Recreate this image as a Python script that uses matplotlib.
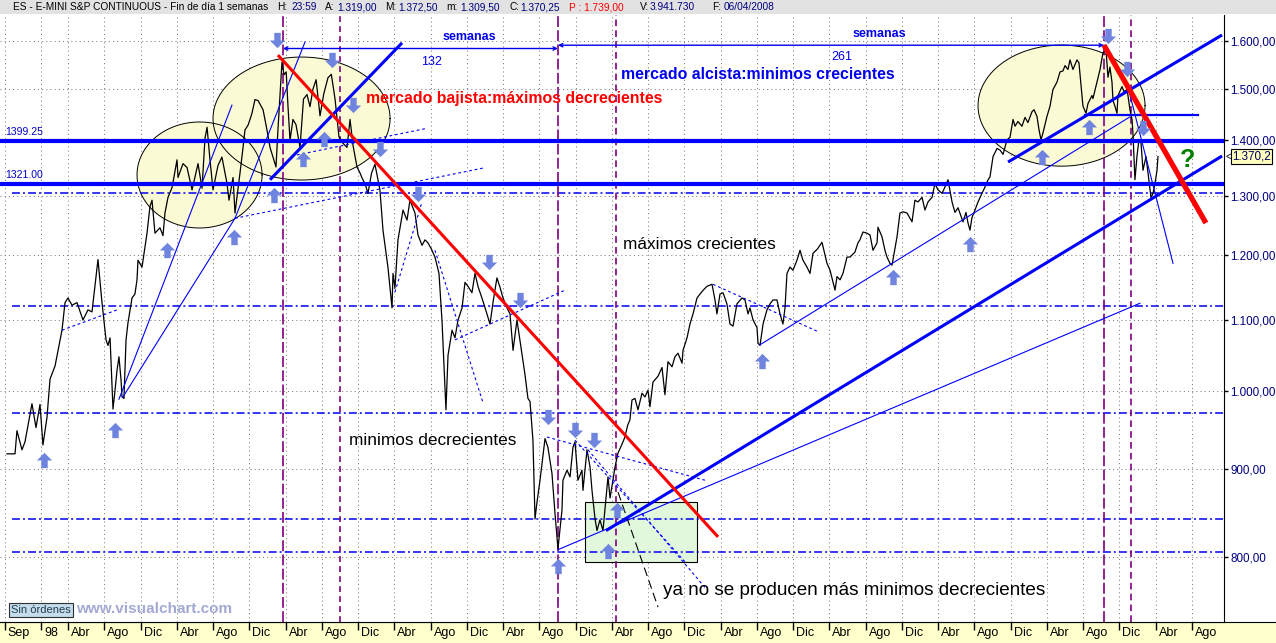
import numpy as np
import matplotlib
matplotlib.use("Agg")
import matplotlib.pyplot as plt
from matplotlib.path import Path
from matplotlib.ticker import FixedLocator, NullLocator, FuncFormatter, NullFormatter
from matplotlib.transforms import ScaledTranslation

plt.rcParams['font.family'] = ['Liberation Sans', 'DejaVu Sans']

# ---------------- weekly price path (decimal year, close) ----------------
t_1997_98 = [1997.687, 1997.761, 1997.779, 1997.825, 1997.853, 1997.917, 1997.954, 1997.991, 1998.018, 1998.055,
             1998.083, 1998.129, 1998.193, 1998.221, 1998.248, 1998.285, 1998.331, 1998.386, 1998.432, 1998.469,
             1998.524, 1998.561, 1998.598, 1998.616, 1998.635, 1998.662, 1998.681, 1998.699, 1998.717, 1998.736,
             1998.745, 1998.763, 1998.782, 1998.800, 1998.837, 1998.864, 1998.883, 1998.892, 1998.929, 1998.975]
p_1997_98 = [919, 919, 948, 924, 934, 983, 952, 982, 930, 965, 1016, 1034, 1085, 1126, 1133, 1122, 1126, 1100, 1115, 1112,
             1193, 1126, 1071, 1063, 1074, 976, 1001, 1028, 1047, 1015, 992, 990, 1071, 1096, 1133, 1139, 1161, 1192, 1181, 1236]

t_1999 = [1999.002, 1999.021, 1999.048, 1999.094, 1999.122, 1999.140, 1999.168, 1999.205, 1999.251, 1999.260,
          1999.306, 1999.343, 1999.389, 1999.444, 1999.481, 1999.508, 1999.527, 1999.554, 1999.582, 1999.628,
          1999.664, 1999.710, 1999.729, 1999.766, 1999.784, 1999.830, 1999.858, 1999.876, 1999.904, 1999.922,
          1999.940, 1999.968]
p_1999 = [1281, 1292, 1236, 1245, 1232, 1270, 1297, 1314, 1364, 1332, 1357, 1350, 1310, 1357, 1313, 1404, 1425, 1364,
          1310, 1354, 1369, 1322, 1292, 1332, 1270, 1340, 1387, 1420, 1429, 1440, 1452, 1479]

t_2000 = [1999.996, 2000.042, 2000.078, 2000.106, 2000.133, 2000.161, 2000.179, 2000.216, 2000.235, 2000.255,
          2000.271, 2000.290, 2000.317, 2000.345, 2000.382, 2000.414, 2000.446, 2000.474, 2000.501, 2000.530,
          2000.566, 2000.600, 2000.639, 2000.670, 2000.704, 2000.740, 2000.775, 2000.814, 2000.842, 2000.870,
          2000.906, 2000.934, 2000.955, 2000.980]
p_2000 = [1477, 1459, 1420, 1387, 1369, 1351, 1420, 1555, 1529, 1535, 1467, 1400, 1440, 1430, 1387, 1480, 1489, 1465,
          1500, 1519, 1447, 1490, 1523, 1530, 1480, 1407, 1395, 1387, 1440, 1390, 1351, 1340, 1330, 1321]

t_2001 = [2001.007, 2001.040, 2001.071, 2001.117, 2001.145, 2001.191, 2001.228, 2001.237, 2001.255, 2001.283,
          2001.329, 2001.366, 2001.393, 2001.439, 2001.467, 2001.504, 2001.531, 2001.559, 2001.590, 2001.623,
          2001.660, 2001.688, 2001.724, 2001.743, 2001.780, 2001.807, 2001.835, 2001.872, 2001.899, 2001.930,
          2001.963, 2001.991]
p_2001 = [1304, 1340, 1356, 1310, 1241, 1180, 1118, 1171, 1148, 1225, 1275, 1258, 1292, 1270, 1233, 1216, 1225, 1220,
          1210, 1197, 1171, 1098, 975, 1049, 1085, 1074, 1100, 1118, 1157, 1150, 1141, 1171]

t_2002 = [2002.020, 2002.055, 2002.101, 2002.129, 2002.160, 2002.193, 2002.220, 2002.249, 2002.280, 2002.313,
          2002.341, 2002.377, 2002.423, 2002.451, 2002.478, 2002.497, 2002.524, 2002.543, 2002.560, 2002.589,
          2002.635, 2002.662, 2002.699, 2002.727, 2002.754, 2002.791, 2002.800, 2002.837, 2002.865, 2002.892,
          2002.911, 2002.938, 2002.975, 2002.984]
p_2002 = [1150, 1133, 1109, 1094, 1130, 1164, 1150, 1133, 1120, 1109, 1056, 1100, 1051, 1022, 990, 986, 936, 842,
          860, 887, 938, 927, 895, 848, 809, 852, 887, 899, 891, 927, 934, 887, 899, 875]

t_2003 = [2003.021, 2003.049, 2003.067, 2003.095, 2003.113, 2003.140, 2003.168, 2003.214, 2003.233, 2003.279,
          2003.306, 2003.340, 2003.370, 2003.395, 2003.416, 2003.435, 2003.462, 2003.490, 2003.527, 2003.554,
          2003.582, 2003.600, 2003.628, 2003.674, 2003.711, 2003.738, 2003.766, 2003.803, 2003.830, 2003.858,
          2003.895, 2003.904, 2003.941, 2003.968, 2003.996]
p_2003 = [924, 903, 875, 842, 829, 841, 829, 891, 866, 903, 920, 930, 940, 955, 962, 988, 990, 975, 997, 992,
          1001, 979, 1012, 1020, 1032, 995, 1040, 1033, 1047, 1052, 1038, 1056, 1074, 1094, 1109]

t_2004 = [2004.033, 2004.060, 2004.090, 2004.125, 2004.171, 2004.198, 2004.216, 2004.244, 2004.272, 2004.308,
          2004.336, 2004.364, 2004.400, 2004.446, 2004.474, 2004.502, 2004.520, 2004.548, 2004.584, 2004.594,
          2004.612, 2004.640, 2004.676, 2004.704, 2004.731, 2004.768, 2004.796, 2004.823, 2004.842, 2004.860,
          2004.888, 2004.915, 2004.952, 2004.980]
p_2004 = [1133, 1139, 1145, 1151, 1154, 1130, 1109, 1139, 1141, 1124, 1094, 1091, 1124, 1133, 1130, 1109, 1118, 1100,
          1089, 1066, 1063, 1094, 1115, 1124, 1130, 1130, 1109, 1094, 1118, 1171, 1181, 1176, 1192, 1208]

t_2005 = [2005.007, 2005.044, 2005.072, 2005.099, 2005.140, 2005.182, 2005.228, 2005.256, 2005.283, 2005.302,
          2005.320, 2005.348, 2005.375, 2005.412, 2005.440, 2005.485, 2005.513, 2005.531, 2005.559, 2005.596,
          2005.624, 2005.651, 2005.688, 2005.697, 2005.734, 2005.761, 2005.780, 2005.807, 2005.826, 2005.872,
          2005.899, 2005.927, 2005.964]
p_2005 = [1192, 1181, 1171, 1203, 1210, 1221, 1187, 1176, 1158, 1145, 1166, 1161, 1171, 1197, 1197, 1205, 1220, 1225,
          1238, 1236, 1233, 1208, 1220, 1246, 1230, 1208, 1197, 1187, 1184, 1230, 1270, 1272, 1270]

t_2006 = [2006.010, 2006.037, 2006.065, 2006.102, 2006.129, 2006.157, 2006.194, 2006.221, 2006.249, 2006.286,
          2006.313, 2006.341, 2006.378, 2006.405, 2006.433, 2006.470, 2006.479, 2006.506, 2006.525, 2006.543,
          2006.561, 2006.589, 2006.617, 2006.653, 2006.681, 2006.709, 2006.727, 2006.755, 2006.792, 2006.819,
          2006.847, 2006.883, 2006.911, 2006.939, 2006.957, 2006.984]
p_2006 = [1255, 1292, 1289, 1297, 1275, 1289, 1297, 1321, 1310, 1304, 1315, 1328, 1289, 1271, 1279, 1260, 1255, 1271,
          1253, 1241, 1262, 1275, 1289, 1304, 1315, 1328, 1333, 1370, 1385, 1382, 1374, 1401, 1406, 1440, 1427, 1436]

t_2007 = [2007.021, 2007.049, 2007.076, 2007.113, 2007.132, 2007.159, 2007.178, 2007.196, 2007.214, 2007.251,
          2007.279, 2007.306, 2007.343, 2007.371, 2007.398, 2007.417, 2007.444, 2007.463, 2007.490, 2007.527,
          2007.545, 2007.573, 2007.582, 2007.610, 2007.628, 2007.665, 2007.674, 2007.711, 2007.739, 2007.766,
          2007.794, 2007.812, 2007.830, 2007.849, 2007.858, 2007.876, 2007.895, 2007.904, 2007.941, 2007.959,
          2007.987, 2007.996]
p_2007 = [1427, 1444, 1434, 1455, 1459, 1446, 1420, 1401, 1414, 1446, 1466, 1499, 1514, 1535, 1537, 1548, 1540, 1560,
          1540, 1560, 1554, 1487, 1466, 1452, 1471, 1487, 1481, 1514, 1540, 1575, 1581, 1524, 1545, 1514, 1477, 1466,
          1452, 1487, 1505, 1495, 1499, 1487]

t_2008 = [2008.014, 2008.033, 2008.042, 2008.060, 2008.079, 2008.097, 2008.116, 2008.134, 2008.162, 2008.180,
          2008.208, 2008.226, 2008.244, 2008.263, 2008.272]
p_2008 = [1459, 1440, 1412, 1328, 1371, 1401, 1395, 1345, 1370, 1340, 1296, 1304, 1321, 1345, 1370]

# ---------------- drawn studies ----------------
support_levels = [1399.25, 1321.00]
support_labels = ['1399.25', '1321.00']
dashdot_levels = [1304, 1121, 971, 842, 805]
vline_dates = [2000.225, 2000.750, 2002.754, 2003.288, 2007.775, 2008.023]
vline_dash = [(6.5, 2), (3.5, 2.5), (6.5, 2), (4, 2.5), (6.5, 2), (4, 2.5)]

# ellipses: centre date, centre price, half-width (years), half-height (log units)
ellipses = [(1999.458, 1336.5, 0.575, 0.0712),
            (2000.396, 1441.8, 0.814, 0.0826),
            (2007.385, 1467.0, 0.768, 0.0813)]

red_lines = [((2000.179, 1570), (2004.226, 822), 2.2),
             ((2007.775, 1591), (2008.713, 1253), 3.8)]
thick_blue = [((2000.106, 1328), (2001.320, 1596)),
              ((2003.196, 829), (2008.861, 1371)),
              ((2006.893, 1360), (2008.861, 1613))]
flat_blue = ((2007.601, 1449), (2008.643, 1449))
thin_blue = [((1998.717, 989), (1999.756, 1468)),
             ((1998.754, 992), (1999.784, 1261)),
             ((1999.784, 1261), (2000.428, 1598)),
             ((2002.754, 808), (2008.106, 1125)),
             ((2004.612, 1064), (2008.014, 1445)),
             ((2007.996, 1504), (2008.410, 1187))]
dotted_blue = [((1999.784, 1261), (2002.065, 1349)),
               ((2000.354, 1373), (2001.550, 1423)),
               ((1998.193, 1085), (1998.699, 1115)),
               ((2001.255, 1142), (2001.504, 1289)),
               ((2001.623, 1208), (2002.065, 984)),
               ((2001.807, 1071), (2002.819, 1145)),
               ((2002.653, 940), (2004.106, 887)),
               ((2002.911, 936), (2003.922, 795)),
               ((2003.030, 924), (2004.106, 768)),
               ((2004.180, 1154), (2005.145, 1083))]
black_dashed = ((2003.306, 873), (2003.674, 748))
green_box = (2003.003, 795, 2004.033, 861.5)

up_t = [1998.028, 1998.680, 1999.159, 1999.775, 2000.143, 2000.409, 2000.602, 2002.754, 2003.214, 2003.297,
        2004.630, 2005.835, 2006.543, 2007.205, 2007.638]
up_p = [911, 949, 1208, 1230, 1301, 1365, 1403, 791, 807, 852, 1041, 1165, 1218, 1369, 1425]
down_t = [2000.170, 2000.676, 2000.869, 2001.117, 2001.467, 2002.120, 2002.405, 2002.662, 2002.911, 2003.085,
          2007.812, 2007.987, 2008.134]
down_p = [1602, 1560, 1468, 1384, 1303, 1189, 1130, 966, 949, 936, 1611, 1540, 1423]

measures = [(2000.225, 2002.754, 1584, 'semanas', '132', 2001.697, 1609, 2001.495, 1555),
            (2002.754, 2007.775, 1591, 'semanas', '261', 2005.467, 1615, 2005.265, 1567)]

month_names = ['Abr', 'Ago', 'Dic']
month_offsets = [3, 7, 11]
price_ticks = [800, 900, 1000, 1100, 1200, 1300, 1400, 1500, 1600]
last_close = 1370.25

# ---------------- figure ----------------
W, H = 1276, 643
fig = plt.figure(figsize=(W / 100, H / 100), dpi=100)
fig.patch.set_facecolor('white')

def fy(py):
    return 1 - py / H

# title bar
tb = fig.add_axes([0, fy(14), 1, 14 / H])
tb.set_facecolor('#E2E2E2')
tb.set_xticks([]); tb.set_yticks([])
for s in tb.spines.values():
    s.set_visible(False)

# date band
band = fig.add_axes([0, 0, 1, 21 / H])
band.set_facecolor('#FFFFCC')
band.set_xticks([]); band.set_yticks([])
for k, s in band.spines.items():
    s.set_visible(k == 'top')
band.spines['top'].set_color('black')
band.set_zorder(0)

ax = fig.add_axes([0, 21 / H, 1224 / W, (622 - 15) / H])
ax.set_zorder(2)
ax.set_yscale('log')
ax.set_xlim(1997.623, 2008.879)
ax.set_ylim(733.2, 1656.9)

# ticks
tick_pos = [1997 + 8 / 12, 1998.0]
tick_lab = ['Sep', '98']
for yr in range(1998, 2009):
    for m, nm in zip(month_offsets, month_names):
        v = yr + m / 12
        if v < 2008.85:
            tick_pos.append(v)
            tick_lab.append(nm)
ax.set_xticks(tick_pos)
ax.set_xticklabels(tick_lab, ha='left')
ax.tick_params(axis='x', direction='out', length=6, width=1, labelsize=9, pad=-2.5, colors='black')
off = ScaledTranslation(3 / 100, 0, fig.dpi_scale_trans)
for lab in ax.get_xticklabels():
    lab.set_transform(lab.get_transform() + off)

ax.yaxis.tick_right()
ax.yaxis.set_major_locator(FixedLocator(price_ticks))
ax.yaxis.set_minor_locator(NullLocator())
ax.yaxis.set_minor_formatter(NullFormatter())
ax.yaxis.set_major_formatter(FuncFormatter(
    lambda v, _: f"{v:,.2f}".replace(',', 'X').replace('.', ',').replace('X', '.')))
ax.tick_params(axis='y', direction='out', length=3, width=1, labelsize=8.4, pad=1.5,
               colors='black', labelcolor='#000080')
for k in ['left', 'top']:
    ax.spines[k].set_visible(False)
ax.spines['right'].set_color('black')
ax.spines['bottom'].set_color('black')

ax.grid(True, which='major', color='#808080', linestyle=(0, (1, 3)), linewidth=0.75, zorder=0.5)
ax.set_axisbelow(True)

# ellipses
th = np.linspace(0, 2 * np.pi, 300)
for cx, cy, a, b in ellipses:
    ax.fill(cx + a * np.cos(th), cy * np.exp(b * np.sin(th)), facecolor='#FAFAD4', edgecolor='none', zorder=1)
for cx, cy, a, b in ellipses:
    ax.plot(cx + a * np.cos(th), cy * np.exp(b * np.sin(th)), color='black', lw=0.7, zorder=1.2)

# green box
gx0, gp0, gx1, gp1 = green_box
ax.fill([gx0, gx1, gx1, gx0], [gp0, gp0, gp1, gp1], facecolor='#E2F8DC', edgecolor='black', lw=0.8, zorder=1.1)

# dash-dot levels
for lv in dashdot_levels:
    ax.plot([1997.733, 2008.879], [lv, lv], color='#0000F0', lw=1.1, linestyle=(0, (5.2, 2, 1.3, 2)), zorder=1.5)

# purple verticals
for xv, ds in zip(vline_dates, vline_dash):
    ax.axvline(xv, color='#800080', lw=1.2, linestyle=(0, ds), zorder=1.6)

# price
t_all = t_1997_98 + t_1999 + t_2000 + t_2001 + t_2002 + t_2003 + t_2004 + t_2005 + t_2006 + t_2007 + t_2008
p_all = p_1997_98 + p_1999 + p_2000 + p_2001 + p_2002 + p_2003 + p_2004 + p_2005 + p_2006 + p_2007 + p_2008
ax.plot(t_all, p_all, color='black', lw=0.9, zorder=3)

# thin & dotted studies
for (a0, b0), (a1, b1) in thin_blue:
    ax.plot([a0, a1], [b0, b1], color='#0000FF', lw=0.8, zorder=3.5)
for (a0, b0), (a1, b1) in dotted_blue:
    ax.plot([a0, a1], [b0, b1], color='#0000FF', lw=0.8, linestyle=(0, (2.5, 2.5)), zorder=3.5)
(a0, b0), (a1, b1) = black_dashed
ax.plot([a0, a1], [b0, b1], color='black', lw=0.8, linestyle=(0, (8, 4)), zorder=3.5)

# support lines
for lv, lb in zip(support_levels, support_labels):
    ax.axhline(lv, color='#0000FF', lw=3.0, zorder=4)
    ax.text(1997.669, lv * 1.005, lb, color='#0000CC', fontsize=7.5, ha='left', va='bottom', zorder=6)

for (a0, b0), (a1, b1) in thick_blue:
    ax.plot([a0, a1], [b0, b1], color='#0000FF', lw=2.2, zorder=4.2, solid_capstyle='butt')
(a0, b0), (a1, b1) = flat_blue
ax.plot([a0, a1], [b0, b1], color='#0000FF', lw=1.6, zorder=4.2)
for (a0, b0), (a1, b1), w in red_lines:
    ax.plot([a0, a1], [b0, b1], color='#FF0000', lw=w, zorder=4.3, solid_capstyle='butt')

# measurement lines
for x0, x1, pv, lab1, lab2, tx1, ty1, tx2, ty2 in measures:
    ax.annotate('', xy=(x0, pv), xytext=(x1, pv),
                arrowprops=dict(arrowstyle='<->', color='#0000EE', lw=1, shrinkA=0, shrinkB=0, mutation_scale=6),
                zorder=4)
    ax.text(tx1, ty1, lab1, color='#0000EE', fontsize=9, fontweight='bold', ha='left', va='center', zorder=6)
    ax.text(tx2, ty2, lab2, color='#0000EE', fontsize=9, ha='left', va='center', zorder=6)

# arrows
up_path = Path([(0, 0.5), (0.5, 0.0), (0.21, 0.0), (0.21, -0.5), (-0.21, -0.5), (-0.21, 0.0), (-0.5, 0.0), (0, 0.5)],
               closed=True)
down_path = Path([(0, -0.5), (0.5, 0.0), (0.21, 0.0), (0.21, 0.5), (-0.21, 0.5), (-0.21, 0.0), (-0.5, 0.0), (0, -0.5)],
                 closed=True)
arrow_col = '#6F84DE'
ax.plot(up_t, up_p, linestyle='none', marker=up_path, markersize=11, color=arrow_col, markeredgewidth=0, zorder=5)
ax.plot(down_t, down_p, linestyle='none', marker=down_path, markersize=11, color=arrow_col, markeredgewidth=0, zorder=5)

# annotations
ax.text(2000.989, 1482, 'mercado bajista:máximos decrecientes', color='#FF0000', fontsize=11.4,
        fontweight='bold', ha='left', va='center', zorder=6)
ax.text(2003.334, 1530, 'mercado alcista:minimos crecientes', color='#0000EE', fontsize=11.4,
        fontweight='bold', ha='left', va='center', zorder=6)
ax.text(2003.352, 1217, 'máximos crecientes', color='black', fontsize=12.4, ha='left', va='center', zorder=6)
ax.text(2000.832, 936, 'minimos decrecientes', color='black', fontsize=12.4, ha='left', va='center', zorder=6)
ax.text(2003.720, 765, 'ya no se producen más minimos decrecientes', color='black', fontsize=13.6,
        ha='left', va='center', zorder=6)
ax.text(2008.539, 1364, '?', color='#008000', fontsize=18, fontweight='bold', ha='center', va='center', zorder=6)

# last price tag
ax.annotate('1.370,2', xy=(1.0, last_close), xycoords=('axes fraction', 'data'), xytext=(6, 0),
            textcoords='offset points', fontsize=8.4, color='#000060', ha='left', va='center',
            bbox=dict(boxstyle='square,pad=0.12', fc='#FFFFC0', ec='black', lw=0.8), annotation_clip=False, zorder=7)
ax.annotate('<', xy=(1.0, last_close), xycoords=('axes fraction', 'data'), xytext=(1.2, 0),
            textcoords='offset points', fontsize=7, color='black', ha='left', va='center', annotation_clip=False)

# title bar text
segs = [(13, 'ES - E-MINI S&P CONTINUOUS - Fin de día 1 semanas', 'black'),
        (277, 'H:', 'black'), (291, '23:59', '#000080'),
        (325, 'A:', 'black'), (337, '1.319,00', '#000080'),
        (385, 'M:', 'black'), (398, '1.372,50', '#000080'),
        (446, 'm:', 'black'), (460, '1.309,50', '#000080'),
        (509, 'C:', 'black'), (520, '1.370,25', '#000080'),
        (569, 'P : 1.739,00', '#FF0000'),
        (640, 'V:', 'black'), (650, '3.941.730', '#000080'),
        (712, 'F:', 'black'), (724, '06/04/2008', '#000080')]
for px, s, c in segs:
    fig.text(px / W, fy(7), s, color=c, fontsize=7.3, ha='left', va='center')

# footer marks
fig.text(11 / W, fy(610), 'Sin órdenes', fontsize=8, color='#1F3F4F', ha='left', va='center', zorder=10,
         bbox=dict(boxstyle='square,pad=0.2', fc='#C4DCEC', ec='#303030', lw=0.8))
fig.text(76 / W, fy(609), 'www.visualchart.com', fontsize=11, fontweight='bold', color='#A3A9D2',
         ha='left', va='center', zorder=10)

fig.savefig('out.png', dpi=100)
